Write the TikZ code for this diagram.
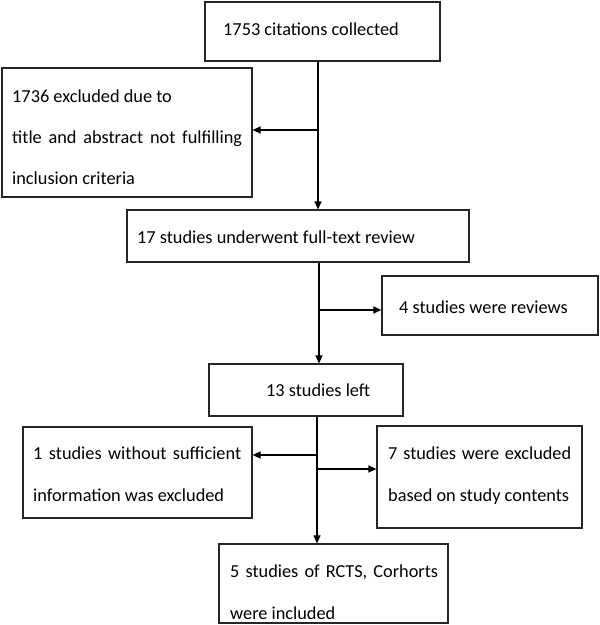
\documentclass[tikz,border=0pt]{standalone}
\usepackage{fontspec}
\setmainfont{Carlito}
\usetikzlibrary{arrows.meta}
\begin{document}
\begin{tikzpicture}[x=1pt,y=-1pt,
  box/.style={draw=black!85, line width=1.2pt, rectangle, inner sep=0pt},
  txt/.style={anchor=base west, inner sep=0pt, font=\fontsize{18.3}{21}\selectfont, text=black},
  arr/.style={draw=black, line width=1.2pt, -{Triangle[length=8pt,width=7pt]}}]
\useasboundingbox[fill=white] (0,0) rectangle (600,625);

% boxes
\node[box, minimum width=235pt, minimum height=59pt] (b1) at (322.5,31.5) {};
\node[box, minimum width=250pt, minimum height=129pt] (b2) at (127,132.5) {};
\node[box, minimum width=342pt, minimum height=52pt] (b3) at (298,236) {};
\node[box, minimum width=216pt, minimum height=59pt] (b4) at (490,305.5) {};
\node[box, minimum width=194pt, minimum height=52pt] (b5) at (306,390) {};
\node[box, minimum width=229pt, minimum height=91pt] (b6) at (137.5,472.5) {};
\node[box, minimum width=205pt, minimum height=102pt] (b7) at (479.5,477) {};
\node[box, minimum width=229pt, minimum height=79pt] (b8) at (333.5,583.5) {};

% texts
\node[txt] (t1) at (223,35) {1753 citations collected};
\node[txt] (t2a) at (12,102) {1736 excluded due to};
\node[txt] (t2b) at (12,143) {\makebox[230pt][s]{title and abstract not fulfilling}};
\node[txt] (t2c) at (12,184) {inclusion criteria};
\node[txt] (t3) at (137,243) {17 studies underwent full-text review};
\node[txt] (t4) at (399,313) {4 studies were reviews};
\node[txt] (t5) at (266,396) {13 studies left};
\node[txt] (t6a) at (33,459) {\makebox[208pt][s]{1 studies without sufficient}};
\node[txt] (t6b) at (33,501) {information was excluded};
\node[txt] (t7a) at (388,459) {\makebox[183pt][s]{7 studies were excluded}};
\node[txt] (t7b) at (388,501) {based on study contents};
\node[txt] (t8a) at (230,577) {\makebox[208pt][s]{5 studies of RCTS, Corhorts}};
\node[txt] (t8b) at (230,619) {were included};

% junctions
\coordinate (j1) at (318,130);
\coordinate (j2) at (319,310);
\coordinate (j3) at (317,455);
\coordinate (j4) at (317,469);

% connectors
\draw[arr] (b1.south -| j1) -- (b3.north -| j1);
\draw[arr] (j1) -- (j1 -| b2.east);
\draw[arr] (b3.south -| j2) -- (b5.north -| j2);
\draw[arr] (j2) -- (j2 -| b4.west);
\draw[arr] (b5.south -| j3) -- (b8.north -| j3);
\draw[arr] (j3) -- (j3 -| b6.east);
\draw[arr] (j4) -- (j4 -| b7.west);
\end{tikzpicture}
\end{document}
